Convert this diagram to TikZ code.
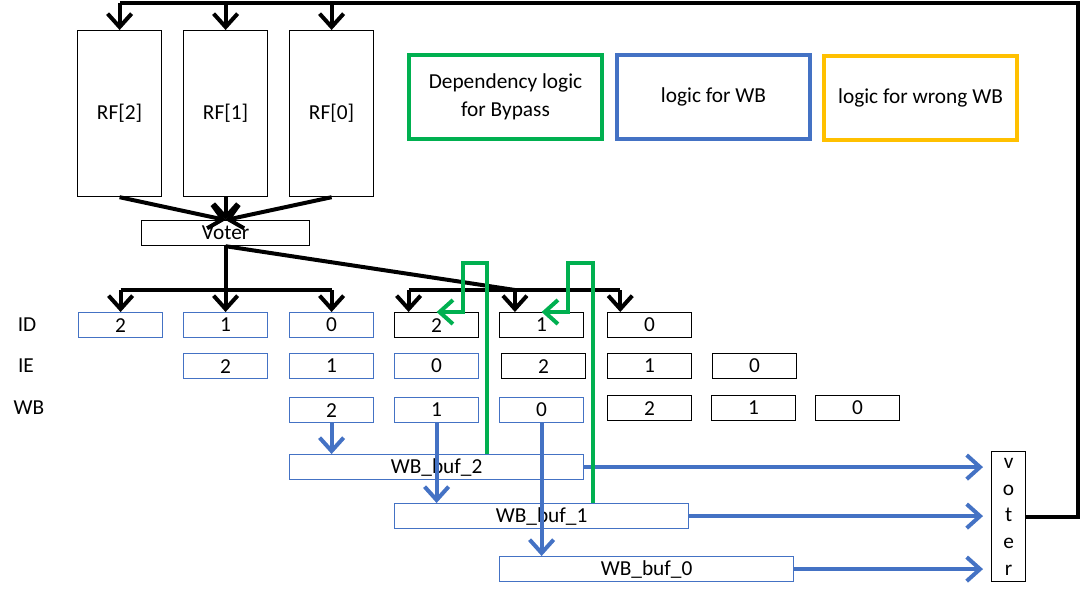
\documentclass[tikz,border=0pt]{standalone}
\usepackage{fontspec}
\setmainfont{Carlito}
\usetikzlibrary{arrows.meta}
\definecolor{bl}{HTML}{4472C4}
\definecolor{gr}{HTML}{00B050}
\definecolor{yl}{HTML}{FFC000}
\begin{document}
\begin{tikzpicture}[x=0.75pt,y=-0.75pt,
  txt/.style={font=\fontsize{16}{20}\selectfont},
  box/.style={draw, line width=0.9pt, inner sep=0pt, anchor=north west, txt},
  bbox/.style={box, draw=bl},
  cell/.style={minimum width=63pt, minimum height=18.75pt},
  buf/.style={bbox, minimum width=220.5pt, minimum height=18.75pt},
  legend/.style={box, line width=3pt, minimum width=144.75pt, minimum height=63pt, align=center, font=\fontsize{16}{21}\selectfont},
  blk/.style={line width=3pt, black},
  blkarr/.style={blk, -{Straight Barb[length=10pt,width=18pt]}},
  bluearr/.style={line width=3pt, bl, -{Straight Barb[length=10pt,width=18pt]}},
  grnarr/.style={line width=3pt, gr, -{Straight Barb[length=10pt,width=18pt]}},
]
\useasboundingbox (0,0) rectangle (1084,596);

% register files
\node[box, minimum width=63pt, minimum height=124.5pt] (rf2) at (77,30) {RF[2]};
\node[box, minimum width=63pt, minimum height=124.5pt] (rf1) at (183,30) {RF[1]};
\node[box, minimum width=63pt, minimum height=124.5pt] (rf0) at (289,30) {RF[0]};

% voter
\node[box, minimum width=126pt, minimum height=18.75pt] (voter) at (141,220) {Voter};

% legend
\node[legend, draw=gr] (lg) at (407,53) {Dependency logic\\for Bypass};
\node[legend, draw=bl] (lb) at (615,53) {logic for WB};
\node[legend, draw=yl] (ly) at (822,54) {logic for wrong WB};

% row labels
\node[txt] (lid) at (27,325) {ID};
\node[txt] (lie) at (26,366) {IE};
\node[txt] (lwb) at (29,408) {WB};

% ID row
\node[bbox, cell] (id2a) at (78,312) {2};
\node[bbox, cell] (id1a) at (183,312) {1};
\node[bbox, cell] (id0a) at (289,312) {0};
\node[box, cell] (id2b) at (394,312) {2};
\node[box, cell] (id1b) at (499,312) {1};
\node[box, cell] (id0b) at (607,312) {0};

% IE row
\node[bbox, cell] (ie2a) at (183,353) {2};
\node[bbox, cell] (ie1a) at (289,353) {1};
\node[bbox, cell] (ie0a) at (394,353) {0};
\node[box, cell] (ie2b) at (501,353) {2};
\node[box, cell] (ie1b) at (607,353) {1};
\node[box, cell] (ie0b) at (712,353) {0};

% WB row
\node[bbox, cell] (wb2a) at (289,397) {2};
\node[bbox, cell] (wb1a) at (394,397) {1};
\node[bbox, cell] (wb0a) at (499,397) {0};
\node[box, cell] (wb2b) at (607,395) {2};
\node[box, cell] (wb1b) at (711,395) {1};
\node[box, cell] (wb0b) at (815,395) {0};

% WB buffers
\node[buf] (buf2) at (289,454) {WB\_buf\_2};
\node[buf] (buf1) at (394,503) {WB\_buf\_1};
\node[buf] (buf0) at (499,556) {WB\_buf\_0};

% right voter
\node[box, minimum width=25.5pt, minimum height=97.5pt, align=center, font=\fontsize{16}{20}\selectfont] (vr) at (991,451) {v\\o\\t\\e\\r};

% coordinates
\coordinate (fb) at (1078,3);
\coordinate (bar) at (0,290);
\coordinate (t2) at ([xshift=-21pt]id2b.north);
\coordinate (t1) at ([xshift=-20pt]id1b.north);
\coordinate (t0) at ([xshift=-22pt]id0b.north);
\coordinate (g1r) at (487,263);
\coordinate (g1l) at (463,263);
\coordinate (g2r) at (593,263);
\coordinate (g2l) at (568,263);

% feedback from right voter to register files
\draw[blk, line join=miter] (vr.east) -| (fb) -- (rf2.north |- fb);
\draw[blkarr] (rf2.north |- fb) -- (rf2.north);
\draw[blkarr] (rf1.north |- fb) -- (rf1.north);
\draw[blkarr] (rf0.north |- fb) -- (rf0.north);

% register files to voter
\draw[blkarr] (rf2.south) -- (voter.north);
\draw[blkarr] (rf1.south) -- (voter.north);
\draw[blkarr] (rf0.south) -- (voter.north);

% voter to ID rows
\draw[blk] (voter.south) -- (voter.south |- bar);
\draw[blk] (id2a.north |- bar) -- (id0a.north |- bar);
\draw[blkarr] (id2a.north |- bar) -- (id2a.north);
\draw[blkarr] (id1a.north |- bar) -- (id1a.north);
\draw[blkarr] (id0a.north |- bar) -- (id0a.north);
\draw[blk] (voter.south) -- (t1 |- bar);
\draw[blk] (t2 |- bar) -- (t0 |- bar);
\draw[blkarr] (t2 |- bar) -- (t2);
\draw[blkarr] (t1 |- bar) -- (t1);
\draw[blkarr] (t0 |- bar) -- (t0);

% WB to buffers
\draw[bluearr] (wb2a.south) -- (buf2.north -| wb2a.south);
\draw[bluearr] (wb1a.south) -- (buf1.north -| wb1a.south);
\draw[bluearr] (wb0a.south) -- (buf0.north -| wb0a.south);

% buffers to right voter
\draw[bluearr, shorten >=6pt] (buf2.east) -- (vr.west |- buf2.east);
\draw[bluearr, shorten >=6pt] (buf1.east) -- (vr.west |- buf1.east);
\draw[bluearr, shorten >=6pt] (buf0.east) -- (vr.west |- buf0.east);

% bypass dependency logic
\draw[grnarr, line join=miter] (buf2.north -| g1r) -- (g1r) -- (g1l) -- (g1l |- id2b.north) -- (id2b.north);
\draw[grnarr, line join=miter] (buf1.north -| g2r) -- (g2r) -- (g2l) -- (g2l |- id1b.north) -- (id1b.north);
\end{tikzpicture}
\end{document}
